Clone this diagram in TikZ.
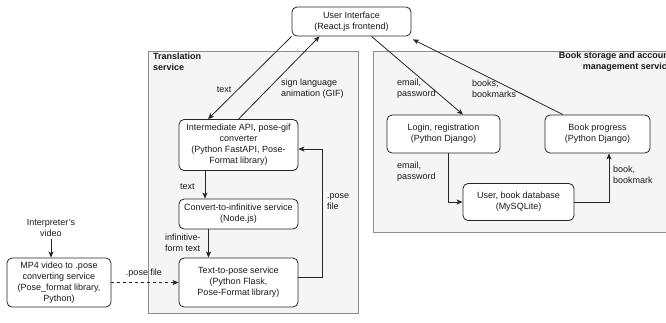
\documentclass[tikz,border=0pt]{standalone}
\usepackage{fontspec}
\setmainfont{Liberation Sans}
\usetikzlibrary{arrows.meta,calc}
\definecolor{txt}{HTML}{1A1A1A}
\definecolor{contfill}{HTML}{F5F5F5}
\definecolor{contline}{HTML}{8C8C8C}
\tikzset{
  box/.style={draw=black!85, fill=white, rounded corners=5pt, line width=0.8pt,
    align=center, inner sep=0pt, text=txt,
    font=\fontsize{9}{11}\selectfont},
  container/.style={draw=contline, fill=contfill, line width=0.8pt},
  lbl/.style={inner sep=0pt, text=txt, font=\fontsize{9}{11}\selectfont},
  ttl/.style={inner sep=0pt, text=txt, font=\fontsize{9}{11}\selectfont\bfseries},
  conn/.style={draw=black!85, line width=0.8pt, -{Stealth[length=6pt,width=5pt,inset=1.5pt]}}
}
\begin{document}
\begin{tikzpicture}[x=1pt,y=-1pt]
\useasboundingbox (0,0) rectangle (666,322);
% containers
\begin{scope}
\clip (0,0) rectangle (666,322);
\draw[container] (148,51) rectangle (358,313);
\draw[container] (373,51) rectangle (690,232);
\node[ttl, anchor=north west, align=left] (ttrans) at (153,53) {Translation\\service};
\node[ttl, anchor=north east, align=right] (tbook) at (672,52) {Book storage and account\\management service};
\end{scope}
% boxes
\node[box, minimum width=119pt, minimum height=29pt] (ui) at (351.5,21.5) {User Interface\\(React.js frontend)};
\node[box, minimum width=119pt, minimum height=51pt] (api) at (238.5,145) {Intermediate API, pose-gif\\converter\\(Python FastAPI, Pose-\\Format library)};
\node[box, minimum width=119pt, minimum height=30pt] (conv) at (238.5,214) {Convert-to-infinitive service\\(Node.js)};
\node[box, minimum width=119pt, minimum height=49pt] (t2p) at (238.5,282.5) {Text-to-pose service\\(Python Flask,\\Pose-Format library)};
\node[box, minimum width=104pt, minimum height=49pt] (mp4) at (59,282.5) {MP4 video to .pose\\converting service\\(Pose\_format library,\\Python)};
\node[box, minimum width=113pt, minimum height=38pt] (login) at (443.5,134) {Login, registration\\(Python Django)};
\node[box, minimum width=105pt, minimum height=38pt] (prog) at (597.5,134) {Book progress\\(Python Django)};
\node[box, minimum width=111pt, minimum height=37pt] (db) at (518.5,202) {User, book database\\(MySQLite)};
\node[lbl, align=center] (interp) at (51,228) {Interpreter's\\video};
% connectors
\draw[conn] (ui.south west) -- ([xshift=-30.5pt]api.north);
\draw[conn] (api.north) -- ([xshift=-32pt]ui.south);
\draw[conn] ([xshift=20pt]ui.south) -- ([xshift=19.5pt]login.north);
\draw[conn] ([xshift=-34.5pt]prog.north) -- ([xshift=1.5pt,yshift=-3pt]ui.south east);
\draw[conn] ([xshift=-33.5pt]api.south) -- ([xshift=-33.5pt]conv.north);
\draw[conn] ([xshift=-30pt]conv.south) -- ([xshift=-30pt]t2p.north);
\draw[conn] ([yshift=5.5pt]t2p.east) -- ++(24,0) |- ([yshift=-4pt]api.east);
\draw[conn, dashed] (mp4.east) -- (t2p.west);
\draw[conn] ([xshift=4.5pt]login.south) |- (db.west);
\draw[conn] (db.east) -| ([xshift=11.5pt]prog.south);
\draw[conn] ([yshift=-2pt]interp.south) -- (interp.south |- mp4.north);
% labels
\node[lbl] (l1) at (224,90) {text};
\node[lbl, anchor=west, align=left] (l2) at (281,89) {sign language\\animation (GIF)};
\node[lbl, anchor=west, align=left] (l3) at (397,89) {email,\\password};
\node[lbl, anchor=west, align=left] (l4) at (472,89) {books,\\bookmarks};
\node[lbl, anchor=west] (l5) at (180,187) {text};
\node[lbl, anchor=west, align=left] (l6) at (165,243) {infinitive-\\form text};
\node[lbl] (l7) at (144,273) {.pose file};
\node[lbl, anchor=west, align=left] (l8) at (327,202) {.pose\\file};
\node[lbl, anchor=west, align=left] (l9) at (397,172) {email,\\password};
\node[lbl, anchor=west, align=left] (l10) at (613,175) {book,\\bookmark};
\end{tikzpicture}
\end{document}
